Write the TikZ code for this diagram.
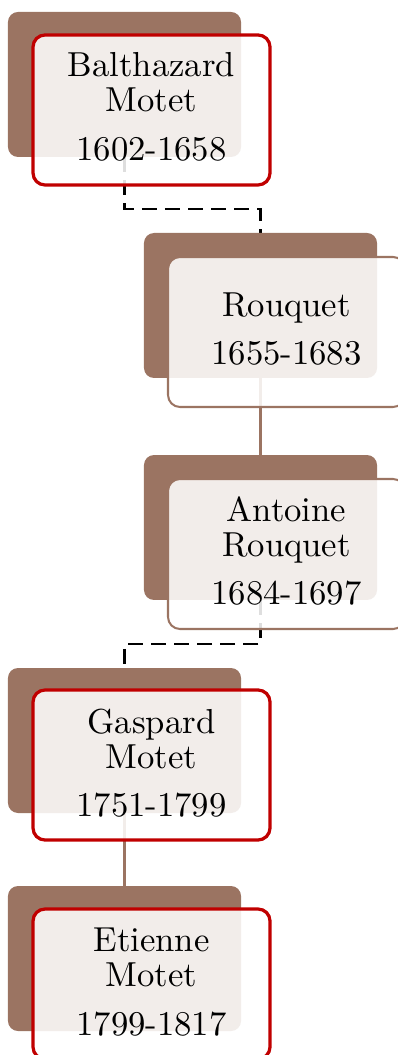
\documentclass[tikz,border=0pt]{standalone}
\usetikzlibrary{backgrounds}
\begin{document}
\begin{tikzpicture}[x=0.2941pt,y=-0.2941pt,
  backbox/.style={fill=tbrown, rounded corners=2.94pt, minimum width=68.53pt, minimum height=42.64pt, inner sep=0pt, outer sep=0pt},
  frontred/.style={draw=tred, line width=0.95pt, fill=white, fill opacity=0.87, rounded corners=3.53pt, minimum width=69.70pt, minimum height=44.12pt, inner sep=0pt, outer sep=0pt},
  frontbrown/.style={frontred, draw=tbrown, line width=0.6pt},
  txt/.style={anchor=base, inner sep=0pt, font=\fontsize{10.2}{12}\selectfont},
  dashedge/.style={draw=black, line width=0.85pt, dash pattern=on 4.4pt off 2.4pt},
  solidedge/.style={draw=tbrown, line width=0.6pt}]
\definecolor{tbrown}{RGB}{155,116,98}
\definecolor{tred}{RGB}{192,0,0}
\useasboundingbox (0,0) rectangle (398,1055);
% back boxes
\node[backbox] (b1) at (124.5,84.5) {};
\node[backbox] (b2) at (260.5,305.5) {};
\node[backbox] (b3) at (260.5,527.5) {};
\node[backbox] (b4) at (124.5,740.5) {};
\node[backbox] (b5) at (124.5,958.5) {};
% connectors behind everything
\coordinate (j1) at (192.5,209);
\coordinate (j2) at (192.5,644);
\begin{pgfonlayer}{background}
\path[dashedge] (b1.south) |- (j1) -| (b2.north);
\path[solidedge] (b2.south) -- (b3.north);
\path[dashedge] (b3.south) |- (j2) -| (b4.north);
\path[solidedge] (b4.south) -- (b5.north);
\end{pgfonlayer}
% front boxes
\node[frontred] (f1) at (151.5,110) {};
\node[frontbrown] (f2) at (286.5,332) {};
\node[frontbrown] (f3) at (286.5,554) {};
\node[frontred] (f4) at (151.5,765) {};
\node[frontred] (f5) at (151.5,984) {};
% texts
\node[txt] (t1a) at (151.5,77) {Balthazard};
\node[txt] (t1b) at (151.5,112) {Motet};
\node[txt] (t1c) at (151.5,160.5) {1602-1658};
\node[txt] (t2a) at (286.5,317) {Rouquet};
\node[txt] (t2b) at (286.5,365) {1655-1683};
\node[txt] (t3a) at (286.5,521) {Antoine};
\node[txt] (t3b) at (286.5,556) {Rouquet};
\node[txt] (t3c) at (286.5,604.5) {1684-1697};
\node[txt] (t4a) at (151.5,733) {Gaspard};
\node[txt] (t4b) at (151.5,768) {Motet};
\node[txt] (t4c) at (151.5,816.5) {1751-1799};
\node[txt] (t5a) at (151.5,951.5) {Etienne};
\node[txt] (t5b) at (151.5,986.5) {Motet};
\node[txt] (t5c) at (151.5,1035) {1799-1817};
\end{tikzpicture}
\end{document}
